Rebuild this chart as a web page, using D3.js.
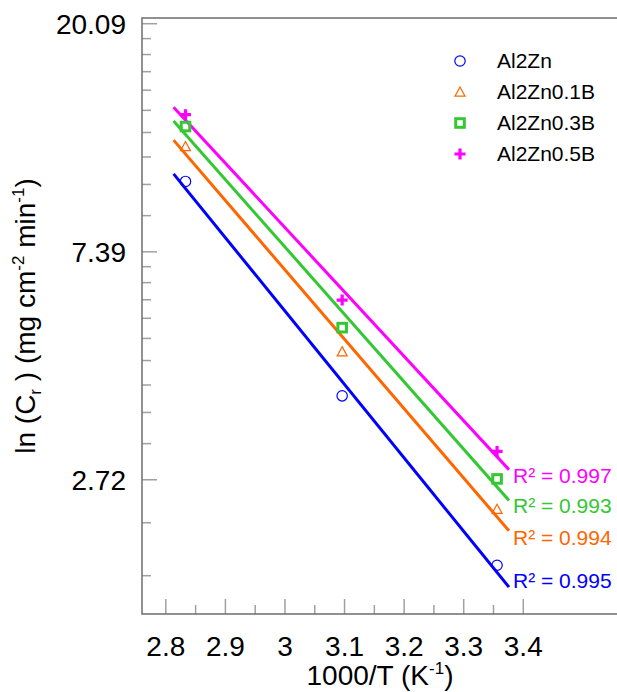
<!DOCTYPE html>
<html>
<head>
<meta charset="utf-8">
<script src="https://cdn.jsdelivr.net/npm/d3@7/dist/d3.min.js"></script>
<style>
  html, body { margin: 0; padding: 0; background: #fff; }
  svg { display: block; font-family: "Liberation Sans", Arial, sans-serif; }
</style>
</head>
<body>
<svg id="chart" width="617" height="692"></svg>
<script>
// Inverse temperature (1000/T, K^-1) for 353 K, 323 K and 298 K
const invTemp = [2.833, 3.096, 3.356];

// Corrosion rate Cr (mg cm^-2 min^-1) per alloy, one value per temperature
const seriesNames = ["Al2Zn", "Al2Zn0.1B", "Al2Zn0.3B", "Al2Zn0.5B"];
const crAl2Zn    = [10.06, 3.93, 1.87];
const crAl2Zn01B = [11.73, 4.77, 2.39];
const crAl2Zn03B = [12.80, 5.30, 2.73];
const crAl2Zn05B = [13.48, 5.98, 3.08];

// Coefficient of determination reported for each Arrhenius fit
const r2Labels = ["0.995", "0.994", "0.993", "0.997"];

// Axis ticks
const xTickValues = [2.8, 2.9, 3, 3.1, 3.2, 3.3, 3.4];
const yTickLabels = ["2.72", "7.39", "20.09"];

const colors  = ["#0000ff", "#ff6600", "#33c833", "#ff00ff"];
const symbols = ["circle", "triangle", "square", "plus"];
const seriesValues = [crAl2Zn, crAl2Zn01B, crAl2Zn03B, crAl2Zn05B];

const svg = d3.select("#chart");
const plotLeft = 142, plotRight = 618, plotTop = 18, plotBottom = 614;

const x = d3.scaleLinear().domain([2.76, 3.559]).range([plotLeft, plotRight]);
const y = d3.scaleLog().domain([1.51, 20.6]).range([plotBottom, plotTop]);

const frameColor = "#6e6e6e", tickColor = "#a0a0a0";

// ---- y ticks: labelled majors, minors at linear tenths between them ----
const yMajor = yTickLabels.map(Number);
const yMinor = [];
for (let i = 0; i < yMajor.length - 1; i++) {
  const step = (yMajor[i + 1] - yMajor[i]) / 10;
  for (let k = 1; k < 10; k++) yMinor.push(yMajor[i] + k * step);
}
{
  const step = (yMajor[1] - yMajor[0]) / 10;
  for (let v = yMajor[0] - step; v > y.domain()[0]; v -= step) yMinor.push(v);
}

const axes = svg.append("g");
axes.selectAll("line.ymin").data(yMinor).join("line")
  .attr("x1", plotLeft).attr("x2", plotLeft + 9)
  .attr("y1", d => y(d)).attr("y2", d => y(d))
  .attr("stroke", tickColor).attr("stroke-width", 1.5);
axes.selectAll("line.ymaj").data(yMajor).join("line")
  .attr("x1", plotLeft).attr("x2", plotLeft + 15)
  .attr("y1", d => y(d)).attr("y2", d => y(d))
  .attr("stroke", tickColor).attr("stroke-width", 1.5);
axes.selectAll("text.ylab").data(yTickLabels).join("text")
  .attr("x", 126).attr("y", d => y(+d) + 10)
  .attr("text-anchor", "end").attr("font-size", 28).attr("fill", "#000")
  .text(d => d);

// ---- x ticks: majors every 0.1, minors halfway ----
const xMinor = xTickValues.slice(0, -1).map(v => v + 0.05);
axes.selectAll("line.xmin").data(xMinor).join("line")
  .attr("x1", d => x(d)).attr("x2", d => x(d))
  .attr("y1", plotBottom).attr("y2", plotBottom - 9)
  .attr("stroke", tickColor).attr("stroke-width", 1.5);
axes.selectAll("line.xmaj").data(xTickValues).join("line")
  .attr("x1", d => x(d)).attr("x2", d => x(d))
  .attr("y1", plotBottom).attr("y2", plotBottom - 15)
  .attr("stroke", tickColor).attr("stroke-width", 1.5);
axes.selectAll("text.xlab").data(xTickValues).join("text")
  .attr("x", d => x(d)).attr("y", 656)
  .attr("text-anchor", "middle").attr("font-size", 28).attr("fill", "#000")
  .text(d => d3.format("")(d));

// frame: left, bottom and top edges
axes.append("path")
  .attr("d", `M${plotRight},${plotTop}H${plotLeft}V${plotBottom}H${plotRight}`)
  .attr("fill", "none").attr("stroke", frameColor).attr("stroke-width", 1.5);

// ---- axis titles ----
const xt = svg.append("text").attr("x", 380).attr("y", 685)
  .attr("text-anchor", "middle").attr("font-size", 28).attr("fill", "#000");
xt.append("tspan").text("1000/T (K");
xt.append("tspan").attr("font-size", 17).attr("dy", -11).text("-1");
xt.append("tspan").attr("dy", 11).text(")");

const yt = svg.append("text")
  .attr("transform", "translate(35,316) rotate(-90)")
  .attr("text-anchor", "middle").attr("font-size", 28).attr("fill", "#000");
yt.append("tspan").text("ln (C");
yt.append("tspan").attr("font-size", 17).attr("dy", 6).text("r");
yt.append("tspan").attr("dy", -6).text(" ) (mg cm");
yt.append("tspan").attr("font-size", 17).attr("dy", -11).text("-2");
yt.append("tspan").attr("dy", 11).text(" min");
yt.append("tspan").attr("font-size", 17).attr("dy", -11).text("-1");
yt.append("tspan").attr("dy", 11).text(")");

// ---- marker shapes ----
function marker(g, type, color) {
  if (type === "circle") {
    g.append("circle").attr("r", 5.2).attr("fill", "none")
      .attr("stroke", color).attr("stroke-width", 1.2);
  } else if (type === "triangle") {
    g.append("path").attr("d", "M0,-5L5,4.2L-5,4.2Z").attr("fill", "none")
      .attr("stroke", color).attr("stroke-width", 1.2);
  } else if (type === "square") {
    g.append("rect").attr("x", -4.3).attr("y", -4.3).attr("width", 8.6).attr("height", 8.6)
      .attr("fill", "none").attr("stroke", color).attr("stroke-width", 3);
  } else {
    g.append("path").attr("d", "M-5.5,0H5.5M0,-5.5V5.5").attr("fill", "none")
      .attr("stroke", color).attr("stroke-width", 3.2);
  }
}

// ---- least-squares fit of ln(Cr) against 1000/T ----
function fit(xs, ys) {
  const ly = ys.map(Math.log);
  const mx = d3.mean(xs), my = d3.mean(ly);
  const slope = d3.sum(xs, (v, i) => (v - mx) * (ly[i] - my)) / d3.sum(xs, v => (v - mx) ** 2);
  return v => Math.exp(my + slope * (v - mx));
}

const xFitStart = d3.min(invTemp) - 0.02, xFitEnd = d3.max(invTemp) + 0.02;
const labelDy = [-6, 7, 6, 6];

const plot = svg.append("g");
seriesValues.forEach((vals, i) => {
  const f = fit(invTemp, vals);
  plot.append("line")
    .attr("x1", x(xFitStart)).attr("y1", y(f(xFitStart)))
    .attr("x2", x(xFitEnd)).attr("y2", y(f(xFitEnd)))
    .attr("stroke", colors[i]).attr("stroke-width", 3);
  plot.append("text")
    .attr("x", x(xFitEnd) + 4).attr("y", y(f(xFitEnd)) + labelDy[i] + 7)
    .attr("font-size", 21).attr("fill", colors[i])
    .text(`R\u00B2 = ${r2Labels[i]}`);
});
seriesValues.forEach((vals, i) => {
  vals.forEach((v, j) => {
    const g = plot.append("g").attr("transform", `translate(${x(invTemp[j])},${y(v)})`);
    marker(g, symbols[i], colors[i]);
  });
});

// ---- legend ----
const legend = svg.append("g").attr("transform", "translate(460,61)");
seriesNames.forEach((name, i) => {
  const g = legend.append("g").attr("transform", `translate(0,${i * 31})`);
  marker(g, symbols[i], colors[i]);
  g.append("text").attr("x", 37).attr("y", 7).attr("font-size", 21)
    .attr("fill", "#000").text(name);
});
</script>
</body>
</html>
